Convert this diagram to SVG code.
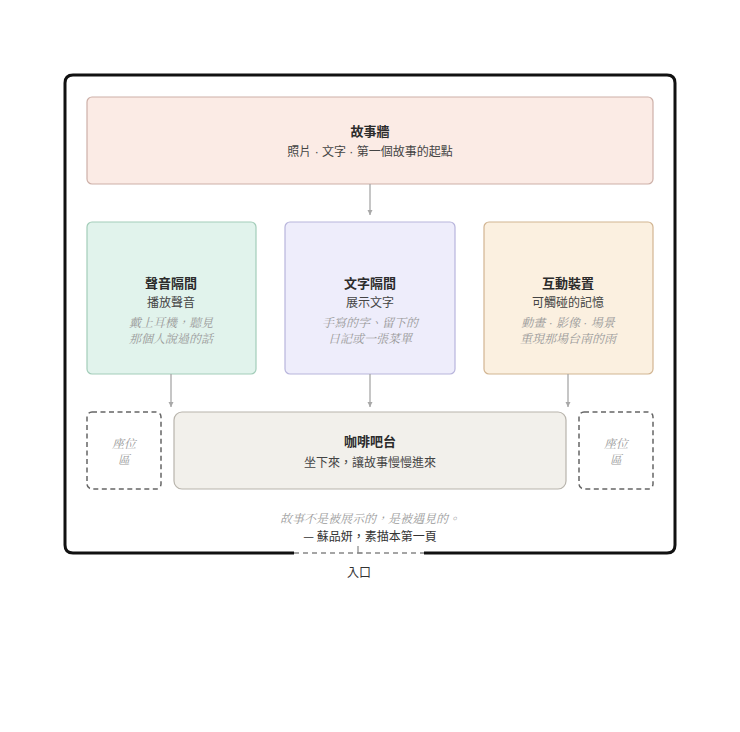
<svg xmlns="http://www.w3.org/2000/svg" width="740" height="732" viewBox="0 0 740 732">
<defs>
<marker id="ah" markerWidth="6" markerHeight="6" refX="5" refY="3" orient="auto" markerUnits="userSpaceOnUse">
<path d="M0,0.5 L5,3 L0,5.5 Z" fill="#a8a8a8"/>
</marker>
<style>
text{font-family:"Noto Sans CJK TC","Noto Sans CJK SC",sans-serif;text-anchor:middle}
.t{font-size:13px;font-weight:700;fill:#2b2b2b}
.s{font-size:12px;fill:#444}
.i{font-family:"Liberation Serif","Noto Serif CJK TC","Noto Sans CJK TC",serif;font-size:12px;font-style:italic;fill:#9a9a9a}
.d{font-family:"Liberation Sans",sans-serif}
.c{stroke:#a8a8a8;stroke-width:1.3;fill:none;marker-end:url(#ah)}
.seat{fill:#fff;stroke:#666;stroke-width:1.5;stroke-dasharray:5 3.5}
</style>
</defs>
<rect width="740" height="732" fill="#fff"/>
<g id="frame">
<path d="M294,553 L73,553 Q65,553 65,545 L65,83 Q65,75 73,75 L667,75 Q675,75 675,83 L675,545 Q675,553 667,553 L424,553" fill="none" stroke="#111" stroke-width="3"/>
<line x1="294" y1="553" x2="424" y2="553" stroke="#888" stroke-width="1.3" stroke-dasharray="5 4"/>
<path d="M358,546 L358,553 L363,553" fill="none" stroke="#888" stroke-width="1.2"/>
<text x="359" y="577" class="s" style="fill:#333">入口</text>
</g>
<g id="story-wall">
<rect x="87" y="97" width="566" height="87" rx="5" fill="#fbebe5" stroke="#cdb0a8" stroke-width="1.2"/>
<text x="370" y="136" class="t">故事牆</text>
<text x="370" y="156" class="s">照片<tspan class="d"> · </tspan>文字<tspan class="d"> · </tspan>第一個故事的起點</text>
</g>
<g id="sound-room">
<rect x="87" y="222" width="169" height="152" rx="5" fill="#e1f3ec" stroke="#a3cdb9" stroke-width="1.2"/>
<text x="171" y="288" class="t">聲音隔間</text>
<text x="171" y="307" class="s">播放聲音</text>
<text x="171" y="327" class="i">戴上耳機，聽見</text>
<text x="171" y="343" class="i">那個人說過的話</text>
</g>
<g id="text-room">
<rect x="285" y="222" width="170" height="152" rx="5" fill="#eeedfb" stroke="#b8b5dc" stroke-width="1.2"/>
<text x="370" y="288" class="t">文字隔間</text>
<text x="370" y="307" class="s">展示文字</text>
<text x="370" y="327" class="i">手寫的字、留下的</text>
<text x="370" y="343" class="i">日記或一張菜單</text>
</g>
<g id="interactive">
<rect x="484" y="222" width="169" height="152" rx="5" fill="#fbf0e0" stroke="#d2b592" stroke-width="1.2"/>
<text x="568" y="288" class="t">互動裝置</text>
<text x="568" y="307" class="s">可觸碰的記憶</text>
<text x="568" y="327" class="i">動畫<tspan class="d"> · </tspan>影像<tspan class="d"> · </tspan>場景</text>
<text x="568" y="343" class="i">重現那場台南的雨</text>
</g>
<g id="coffee-bar">
<rect x="174" y="412" width="392" height="77" rx="8" fill="#f2f0eb" stroke="#b8b4ac" stroke-width="1.2"/>
<text x="370" y="446" class="t">咖啡吧台</text>
<text x="370" y="467" class="s">坐下來，讓故事慢慢進來</text>
</g>
<g id="seat-left">
<rect x="87" y="412" width="74" height="77" rx="5" class="seat"/>
<text x="124" y="448" class="i">座位</text>
<text x="124" y="464" class="i">區</text>
</g>
<g id="seat-right">
<rect x="579" y="412" width="74" height="77" rx="5" class="seat"/>
<text x="616" y="448" class="i">座位</text>
<text x="616" y="464" class="i">區</text>
</g>
<g id="quote">
<text x="370" y="523" class="i">故事不是被展示的，是被遇見的。</text>
<text x="370" y="541" class="s" style="fill:#333">— 蘇品妍，素描本第一頁</text>
</g>
<g id="connectors">
<line x1="370" y1="184" x2="370" y2="215" class="c"/>
<line x1="171" y1="374" x2="171" y2="407" class="c"/>
<line x1="370" y1="374" x2="370" y2="407" class="c"/>
<line x1="568" y1="374" x2="568" y2="407" class="c"/>
</g>
</svg>
